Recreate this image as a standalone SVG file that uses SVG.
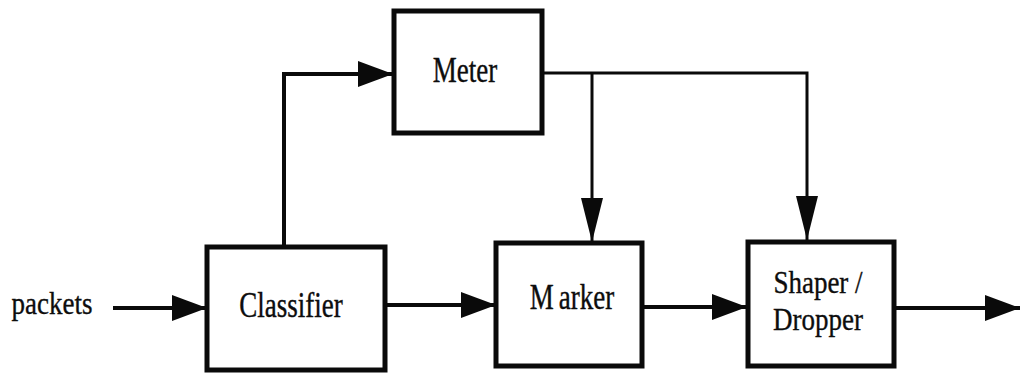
<svg xmlns="http://www.w3.org/2000/svg" width="1021" height="374" viewBox="0 0 1021 374">
  <style>
    .box { fill: #ffffff; stroke: #0a0a0a; stroke-width: 5; }
    .wire { fill: none; stroke: #0a0a0a; stroke-width: 4; }
    .thin { fill: none; stroke: #0a0a0a; stroke-width: 3; }
    .label { font-family: "Liberation Serif", "Times New Roman", serif; font-size: 27px; fill: #0d0d0d; stroke: #0d0d0d; stroke-width: 0.3; text-anchor: middle; }
  </style>
  <defs>
    <marker id="head" markerUnits="userSpaceOnUse" markerWidth="36" markerHeight="28" refX="35" refY="13" orient="auto">
      <path d="M0,0 L35,13 L0,26 Z" fill="#0a0a0a"/>
    </marker>
    <marker id="head-tall" markerUnits="userSpaceOnUse" markerWidth="45" markerHeight="24" refX="44" refY="11" orient="auto">
      <path d="M0,0 L44,11 L0,22 Z" fill="#0a0a0a"/>
    </marker>
  </defs>

  <rect width="1021" height="374" fill="#ffffff"/>

  <!-- connectors -->
  <g id="connectors">
    <path class="wire" d="M113,308 H207" marker-end="url(#head)"/>
    <path class="wire" d="M284,247 V74 H393" marker-end="url(#head)"/>
    <path class="wire" d="M385,305 H496" marker-end="url(#head)"/>
    <path class="wire" d="M643,307 H747" marker-end="url(#head)"/>
    <path class="wire" d="M894,308 H1020" marker-end="url(#head)"/>
    <path class="thin" d="M543,73 H807 V240" marker-end="url(#head-tall)"/>
    <path class="thin" d="M592,73 V242" marker-end="url(#head-tall)"/>
  </g>

  <!-- input label -->
  <g id="packets">
    <text class="label" transform="translate(52,314) scale(1,1.15)">packets</text>
  </g>

  <g id="classifier">
    <rect class="box" x="207" y="247" width="178" height="123"/>
    <text class="label" transform="translate(291,317) scale(1,1.3)">Classifier</text>
  </g>

  <g id="meter">
    <rect class="box" x="394" y="11" width="148" height="122"/>
    <text class="label" transform="translate(465,82) scale(1,1.3)">Meter</text>
  </g>

  <g id="marker">
    <rect class="box" x="496" y="243" width="146" height="123"/>
    <text class="label" transform="translate(572,309) scale(1,1.3)">M<tspan dx="5">arker</tspan></text>
  </g>

  <g id="shaper-dropper">
    <rect class="box" x="748" y="242" width="146" height="124"/>
    <text class="label" transform="translate(818,293) scale(1,1.17)">Shaper /</text>
    <text class="label" transform="translate(818,330) scale(1,1.17)">Dropper</text>
  </g>
</svg>
